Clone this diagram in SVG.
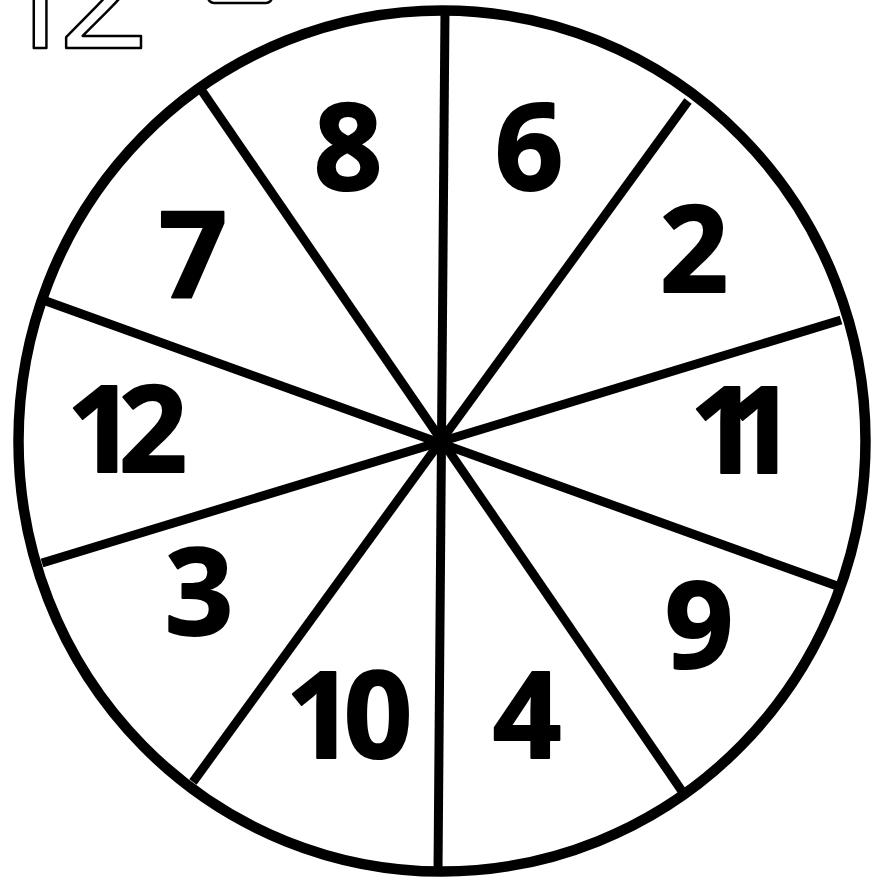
<svg xmlns="http://www.w3.org/2000/svg" width="878" height="880" viewBox="0 0 878 880">
<style>
.num{font-family:"Open Sans","Noto Sans",sans-serif;font-weight:bold;font-size:120px;fill:#000;stroke:#000;stroke-width:2;stroke-linejoin:round;text-anchor:middle}
.outline{font-family:"Open Sans","Noto Sans",sans-serif;font-weight:normal;font-size:160px;fill:#fff;stroke:#000;stroke-width:2.5;stroke-linejoin:round;text-anchor:middle}
.spoke{stroke:#000;stroke-width:9;stroke-linecap:butt}
</style>
<rect width="878" height="880" fill="#fff"/>
<g id="title">
<text class="outline" x="36 104" y="48">12</text>
<rect x="208" y="-10" width="64" height="13" rx="6" fill="#fff" stroke="#000" stroke-width="2.5"/>
</g>
<g id="wheel">
<ellipse cx="442" cy="441" rx="423.5" ry="430.5" fill="#fff" stroke="#000" stroke-width="10.5"/>
</g>
<g id="connectors">
<line class="spoke" x1="445" y1="10" x2="438" y2="871"/>
<line class="spoke" x1="688" y1="101" x2="193" y2="782"/>
<line class="spoke" x1="841" y1="320" x2="42" y2="563"/>
<line class="spoke" x1="840" y1="587" x2="43" y2="300"/>
<line class="spoke" x1="686" y1="797" x2="200" y2="88"/>
</g>
<g id="s8"><text class="num" x="348" y="190">8</text></g>
<g id="s6"><text class="num" x="529" y="190">6</text></g>
<g id="s7"><text class="num" x="193" y="298">7</text></g>
<g id="s2"><text class="num" x="694" y="292">2</text></g>
<g id="s12"><text class="num" x="101 153" y="472">12</text></g>
<g id="s11"><text class="num" x="724 761" y="473">11</text></g>
<g id="s3"><text class="num" x="199" y="635">3</text></g>
<g id="s9"><text class="num" x="699" y="668">9</text></g>
<g id="s10"><text class="num" x="320 378" y="758">10</text></g>
<g id="s4"><text class="num" x="527" y="758">4</text></g>
</svg>
